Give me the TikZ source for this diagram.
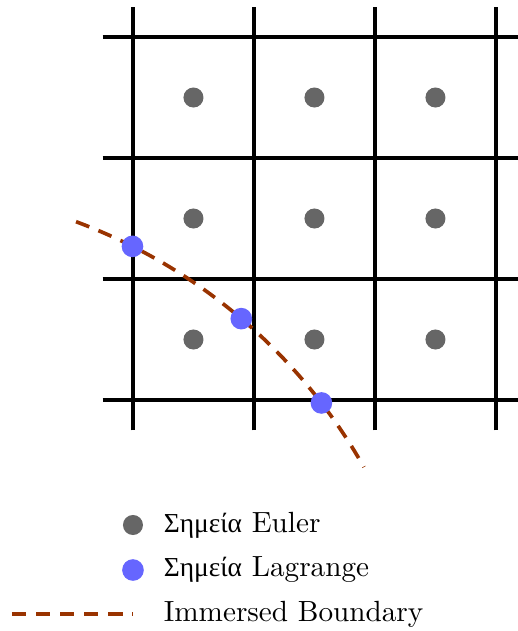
\documentclass[tikz,border=0pt]{standalone}
\usepackage{fontspec}
\newfontfamily\greekfont[Script=Greek, Scale=MatchLowercase]{Liberation Serif}
\usetikzlibrary{positioning,calc}
\definecolor{ibred}{RGB}{153,51,0}
\definecolor{lagblue}{RGB}{102,102,255}
\tikzset{
  every picture/.style={line width=1.3pt},
  sgrid/.style={black},
  sEuler/.style={circle, fill=black!60, inner sep=2.5pt},
  sLagr/.style={circle, fill=lagblue, inner sep=2.7pt},
  sIB/.style={ibred, line width=1.3pt, dash pattern=on 5pt off 3.5pt},
  slabel/.style={inner sep=0pt, anchor=west, font=\fontsize{10.3}{12.4}\selectfont},
}

\begin{document}
\begin{tikzpicture}[x=1.5cm, y=1.5cm]
  \useasboundingbox (-1.099,-1.909) rectangle (3.182,3.306);
  % Euler grid
  \foreach \i in {0,...,3} {
    \draw[sgrid] (\i,-0.25) -- (\i,3.25);
    \draw[sgrid] (-0.25,\i) -- (3.25,\i);
  }
  \foreach \i in {0,1,2}
    \foreach \j in {0,1,2}
      \node[sEuler] (e\i\j) at (\i+0.5,\j+0.5) {};
  % immersed boundary: circular arc
  \coordinate (ibc) at (-2.06,-2.80);
  \draw[sIB] ($(ibc)+(69.6:4.56)$) arc[start angle=69.6, end angle=29.5, radius=4.56];
  \foreach \a [count=\k] in {63.2,49.6,37.5}
    \node[sLagr] (l\k) at ($(ibc)+(\a:4.56)$) {};
  % legend
  \node[sEuler] (legE) at (0,-1.033) {};
  \node[sLagr] (legL) at (0,-1.405) {};
  \coordinate (legB0) at (-1.0,-1.769);
  \coordinate (legB1) at (0,-1.769);
  \draw[sIB] (legB0) -- (legB1);
  \node[slabel] (txtE) at (0.24,-1.033) {{\greekfont Σημεία} Euler};
  \node[slabel] (txtL) at (0.24,-1.405) {{\greekfont Σημεία} Lagrange};
  \node[slabel] (txtB) at (0.24,-1.769) {Immersed Boundary};
\end{tikzpicture}
\end{document}
